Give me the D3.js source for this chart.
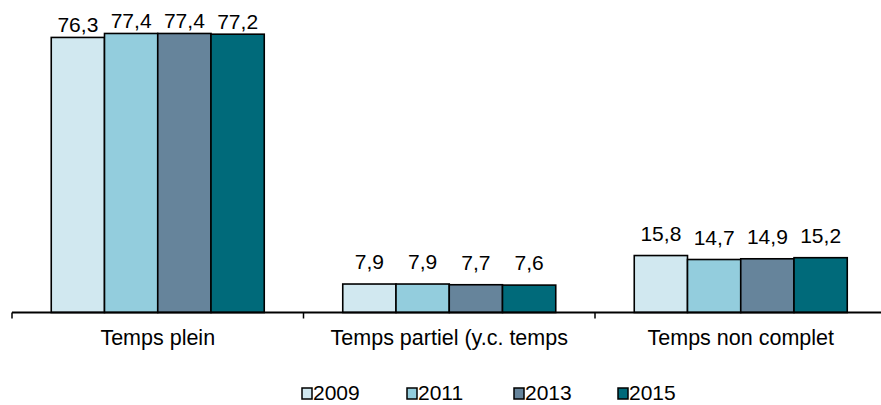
<!DOCTYPE html>
<html><head><meta charset="utf-8">
<script src="https://cdn.jsdelivr.net/npm/d3@7"></script>
<style>html,body{margin:0;padding:0;background:#fff}svg{display:block}</style>
</head><body>
<svg id="chart" width="881" height="405"></svg>
<script>
const categories = ["Temps plein", "Temps partiel (y.c. temps", "Temps non complet"];
const years = ["2009", "2011", "2013", "2015"];
const v2009 = [76.3, 7.9, 15.8];
const v2011 = [77.4, 7.9, 14.7];
const v2013 = [77.4, 7.7, 14.9];
const v2015 = [77.2, 7.6, 15.2];
const colors = ["#D1E8F0", "#93CDDD", "#66849B", "#006A7A"];
const yDomain = [0, 80];

const series = [v2009, v2011, v2013, v2015];
const svg = d3.select("#chart");
const font = "'Liberation Sans', Arial, sans-serif";

const x0 = d3.scaleBand().domain(categories).range([12, 12 + 3 * 291.5]).paddingInner(0).paddingOuter(0);
const inner = 213;
const x1 = d3.scaleBand().domain(years).range([0, inner]);
const y = d3.scaleLinear().domain(yDomain).range([312.5, 312.5 - 80 * 3.605]);

const bw = x0.bandwidth();
const off = (bw - inner) / 2;

const g = svg.append("g");
categories.forEach((c, ci) => {
  years.forEach((yr, si) => {
    const v = series[si][ci];
    const bx = x0(c) + off + x1(yr);
    g.append("rect")
      .attr("x", bx).attr("y", y(v))
      .attr("width", x1.bandwidth()).attr("height", y(0) - y(v))
      .attr("fill", colors[si]).attr("stroke", "#000").attr("stroke-width", 1.6);
    const top = y(v);
    const ly = (top - 15 < 25) ? top - 5 : top - 15;
    g.append("text")
      .attr("x", bx + x1.bandwidth() / 2).attr("y", ly)
      .attr("text-anchor", "middle")
      .attr("font-family", font).attr("font-size", 21).attr("fill", "#000")
      .text(d3.format(".1f")(v).replace(".", ","));
  });
});

// x axis
const axis = d3.axisBottom(x0).tickSize(0).tickFormat("");
const ax = svg.append("g").attr("transform", `translate(0,${y(0)})`).call(axis);
ax.select(".domain").remove();
ax.append("line").attr("x1", 12).attr("x2", 12 + 3 * 291.5).attr("y1", 0).attr("y2", 0)
  .attr("stroke", "#000").attr("stroke-width", 2);
[0, 1, 2, 3].forEach(i => {
  const tx = 12 + i * bw;
  ax.append("line").attr("x1", tx).attr("x2", tx).attr("y1", 0).attr("y2", 6)
    .attr("stroke", "#000").attr("stroke-width", 1.5);
});
categories.forEach(c => {
  svg.append("text")
    .attr("x", x0(c) + bw / 2).attr("y", 345)
    .attr("text-anchor", "middle")
    .attr("font-family", font).attr("font-size", 21.5).attr("fill", "#000")
    .text(c);
});

// legend
const legX = [302, 407, 514, 618];
years.forEach((yr, i) => {
  svg.append("rect").attr("x", legX[i]).attr("y", 388).attr("width", 10).attr("height", 11)
    .attr("fill", colors[i]).attr("stroke", "#000").attr("stroke-width", 1.5);
  svg.append("text").attr("x", legX[i] + 11).attr("y", 400)
    .attr("font-family", font).attr("font-size", 21).attr("fill", "#000")
    .text(yr);
});
</script>
</body></html>
